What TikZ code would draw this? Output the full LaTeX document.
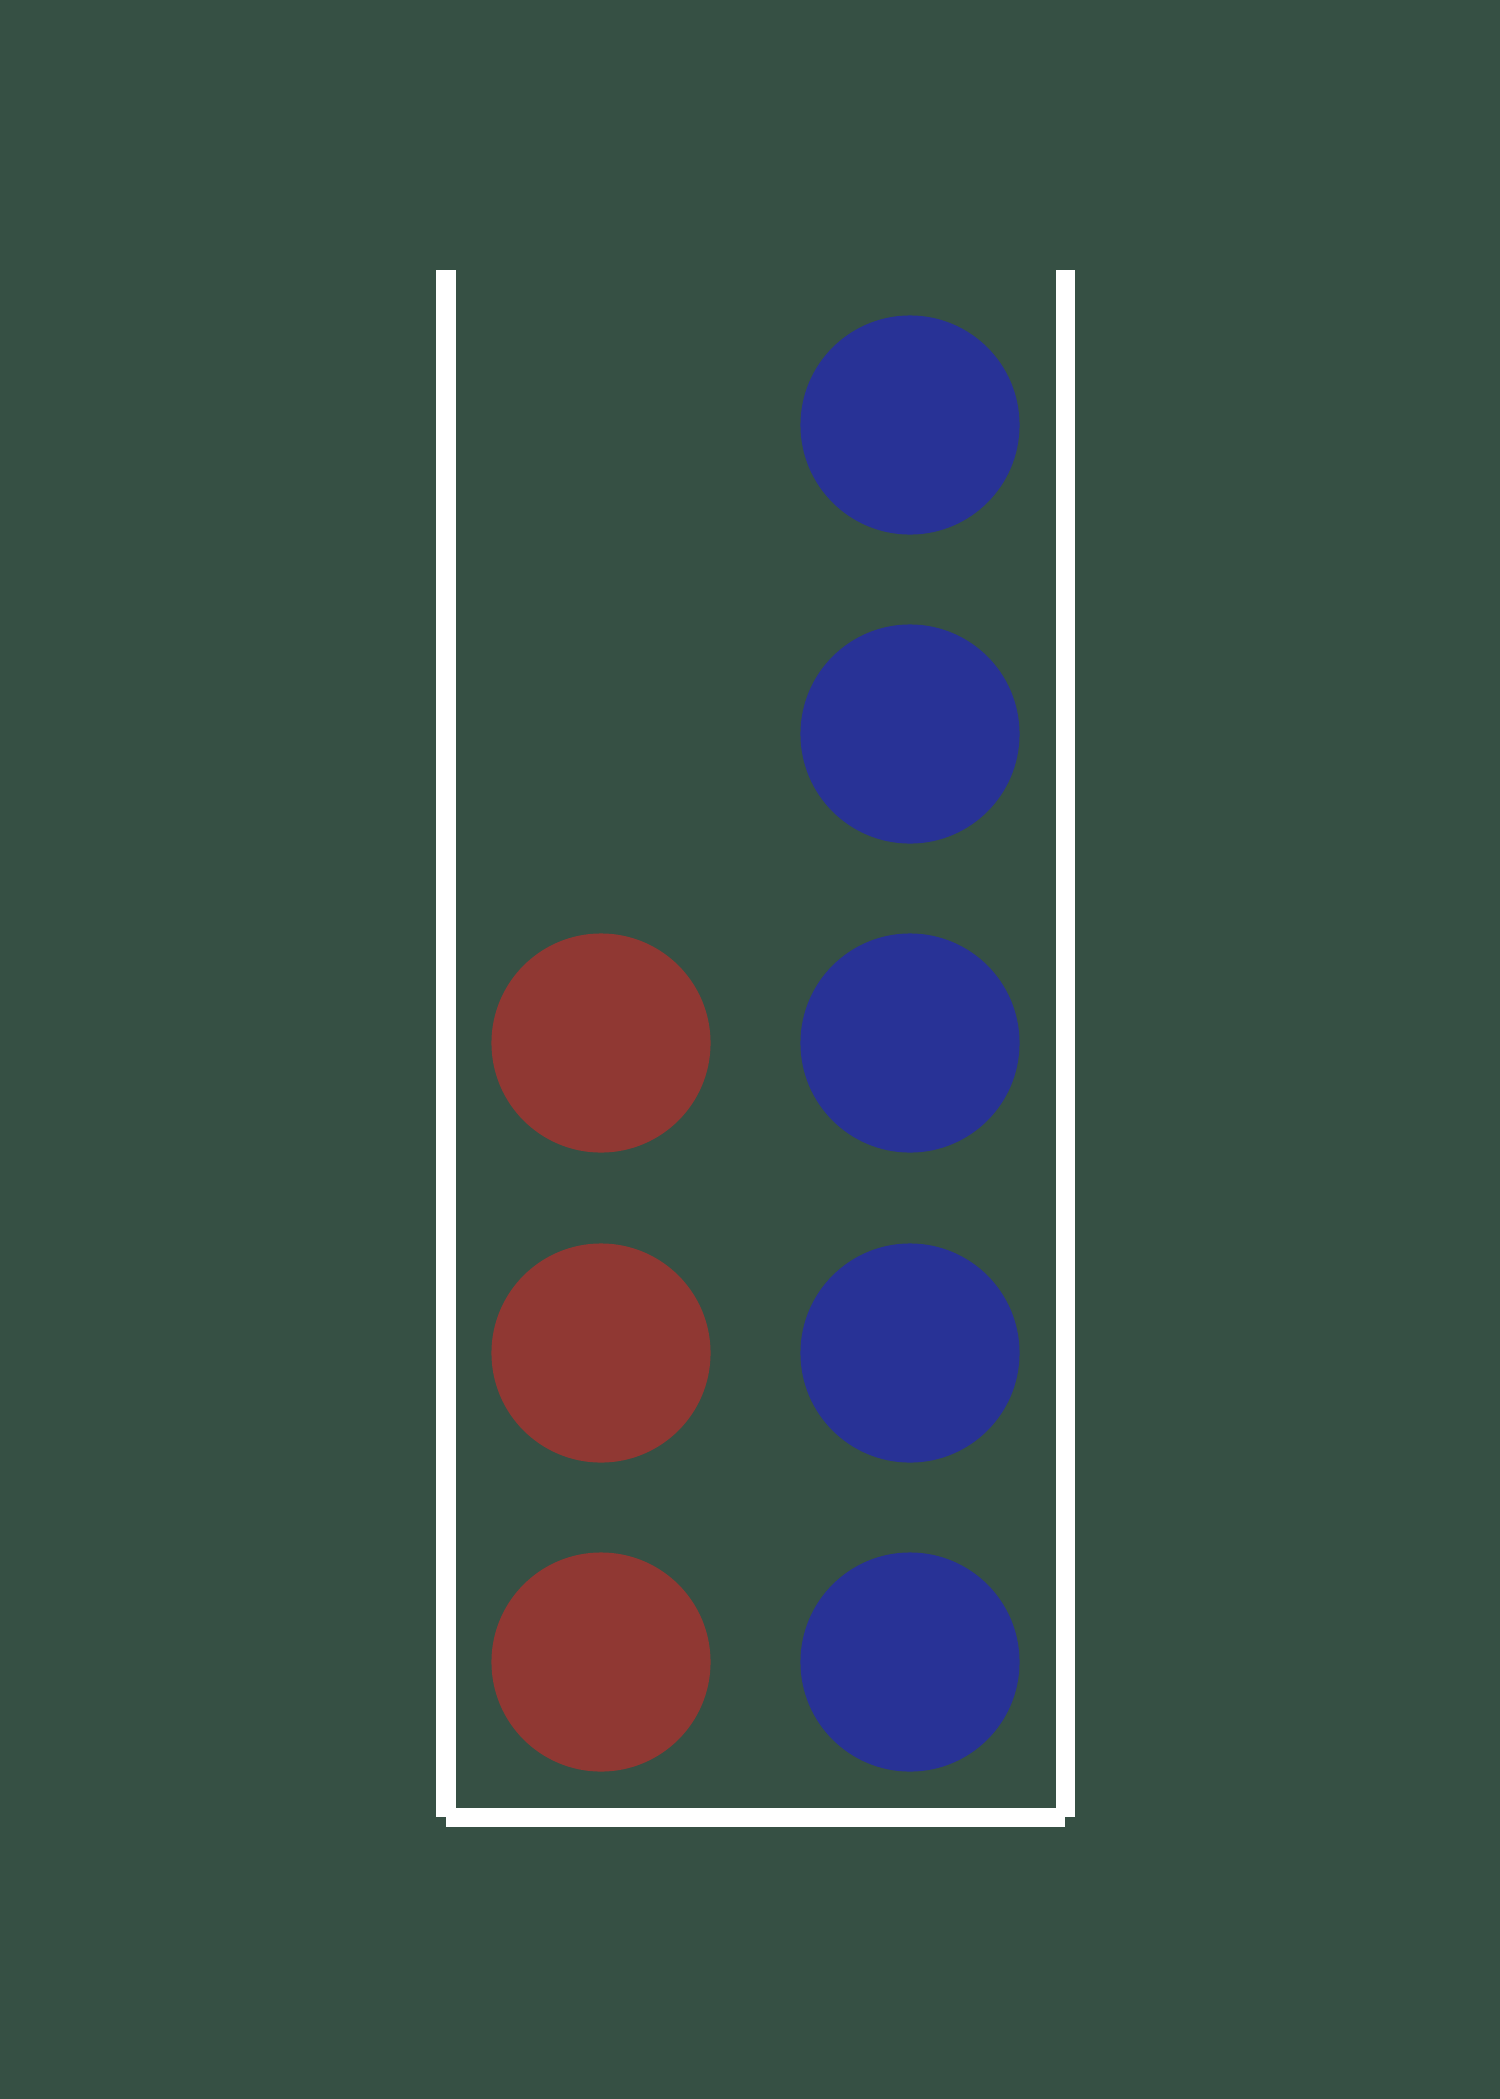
\documentclass[tikz,border=0pt]{standalone}
\usepackage{xcolor}
\usepackage{tikz}
\usetikzlibrary{positioning,backgrounds}
\definecolor{tube_bg}{RGB}{54,80,68}
\definecolor{tube_red}{RGB}{144,56,51}
\definecolor{tube_blue}{RGB}{40,50,150}

\begin{document}
\begin{tikzpicture}[
      x=0.01cm, y=-0.01cm,
      ball/.style={circle, minimum size=2.19cm, inner sep=0pt},
      redball/.style={ball, fill=tube_red},
      blueball/.style={ball, fill=tube_blue},
      wall/.style={draw=white, line width=0.19cm, line cap=butt},
    ]
    % canvas
    \fill[tube_bg] (0,0) rectangle (1500,2099);
    \useasboundingbox (0,0) rectangle (1500,2099);

    % tube corners
    \coordinate (tl) at (446,270);
    \coordinate (bl) at (446,1817);
    \coordinate (tr) at (1065,270);
    \coordinate (br) at (1065,1817);

    \draw[wall] (tl) -- (bl);
    \draw[wall] (tr) -- (br);
    \draw[wall] (bl) -- (br);

    % right column: blue
    \node[blueball] (b1) at (910,425)  {};
    \node[blueball] (b2) at (910,734)  {};
    \node[blueball] (b3) at (910,1043) {};
    \node[blueball] (b4) at (910,1353) {};
    \node[blueball] (b5) at (910,1662) {};

    % left column: red
    \node[redball] (r3) at (601,1043) {};
    \node[redball] (r4) at (601,1353) {};
    \node[redball] (r5) at (601,1662) {};
  \end{tikzpicture}
\end{document}
